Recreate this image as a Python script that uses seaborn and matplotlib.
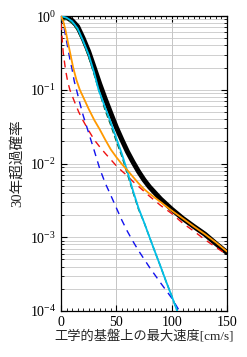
import numpy as np
import pandas as pd
import matplotlib
matplotlib.use("Agg")
import matplotlib.pyplot as plt
import seaborn as sns
from matplotlib.ticker import LogLocator, MultipleLocator, NullFormatter, FixedLocator

# ---- data ----
black_x = [0, 5, 10, 15, 20, 25, 30, 35, 40, 45, 50, 55, 60, 65, 70, 75, 80, 90, 100, 110, 120, 130, 140, 150]
black_y = [1.0, 0.96, 0.87, 0.72, 0.5, 0.33, 0.2, 0.12, 0.075, 0.048, 0.031, 0.021, 0.0145, 0.0105, 0.0078,
           0.006, 0.0048, 0.0033, 0.0024, 0.0018, 0.0014, 0.0011, 0.00082, 0.00062]

orange_x = [0, 2, 4, 6, 8, 11, 14, 17, 20, 25, 30, 35, 40, 45, 50, 55, 60, 65, 70, 75, 80, 90, 100,
            110, 120, 130, 140, 150]
orange_y = [1.0, 0.85, 0.65, 0.46, 0.33, 0.2, 0.135, 0.1, 0.08, 0.055, 0.039, 0.029, 0.021, 0.0155, 0.0122,
            0.0098, 0.0081, 0.0066, 0.0054, 0.0045, 0.0039, 0.003, 0.0023, 0.0018, 0.0014, 0.0011, 0.00085,
            0.00064]

red_x = [0, 1, 2, 4, 6, 8, 12, 16, 20, 25, 30, 35, 40, 45, 50, 55, 60, 65, 70, 80, 90, 100, 110, 120,
         130, 140, 150]
red_y = [0.8, 0.5, 0.32, 0.19, 0.13, 0.1, 0.07, 0.05, 0.038, 0.028, 0.021, 0.0168, 0.0137, 0.0113, 0.0093,
         0.0079, 0.0068, 0.0057, 0.0049, 0.0036, 0.0027, 0.0021, 0.00155, 0.00121, 0.00093, 0.00073, 0.00058]

blue_x = [0, 2, 4, 6, 8, 10, 12, 14, 17, 20, 25, 30, 35, 40, 45, 50, 55, 60, 65, 70, 80, 90, 100, 107]
blue_y = [1.0, 0.8, 0.55, 0.38, 0.26, 0.19, 0.13, 0.1, 0.066, 0.045, 0.026, 0.015, 0.0085, 0.0054, 0.0037,
          0.0025, 0.0017, 0.0012, 0.00088, 0.00066, 0.00039, 0.00024, 0.00015, 0.0001]

green_x = [0, 5, 10, 15, 20, 25, 30, 35, 40, 45, 50, 55, 60, 65, 70, 75, 80, 85, 90, 95, 100, 105]
green_y = [0.88, 0.9, 0.8, 0.64, 0.44, 0.28, 0.16, 0.09, 0.052, 0.033, 0.02, 0.0125, 0.0072, 0.0041, 0.0024,
           0.0016, 0.001, 0.00063, 0.0004, 0.00025, 0.00016, 0.0001]

cyan_x = [0, 5, 10, 15, 20, 25, 30, 34, 40, 45, 50, 55, 60, 65, 70, 75, 80, 85, 90, 95, 100, 105]
cyan_y = [1.0, 0.95, 0.85, 0.68, 0.46, 0.3, 0.17, 0.1, 0.057, 0.036, 0.022, 0.0135, 0.0078, 0.0043, 0.0025,
          0.0016, 0.001, 0.00063, 0.0004, 0.00025, 0.00016, 0.0001]

x_ticks = [0, 50, 100, 150]
x_label = "工学的基盤上の最大速度[cm/s]"
y_label = "30年超過確率"

# ---- style ----
sns.set_style("ticks")
plt.rcParams["font.family"] = ["Liberation Serif", "Noto Sans CJK JP"]
plt.rcParams["mathtext.fontset"] = "stix"

fig = plt.figure(figsize=(2.47, 3.57), dpi=100)
ax = fig.add_axes([0.247, 0.129, 0.672, 0.826])

def draw(xs, ys, color, lw, dashes=None, z=2):
    df = pd.DataFrame({"x": xs, "y": ys})
    sns.lineplot(data=df, x="x", y="y", ax=ax, color=color, lw=lw, zorder=z)
    line = ax.lines[-1]
    line.set_solid_joinstyle("round")
    if dashes:
        line.set_linestyle((0, dashes))

draw(black_x, black_y, "black", 3.6, z=3)
draw(red_x, red_y, "#ee1111", 1.0, dashes=(5, 4), z=4)
draw(blue_x, blue_y, "#1111ee", 1.0, dashes=(5, 4), z=4)
draw(green_x, green_y, "#1a5a2a", 1.0, dashes=(4, 2), z=4)
draw(cyan_x, cyan_y, "#00bfe8", 1.3, z=5)
draw(orange_x, orange_y, "#ff9900", 1.3, z=6)

ax.set_yscale("log")
ax.set_xlim(0, 150)
ax.set_ylim(1e-4, 1)
ax.xaxis.set_major_locator(FixedLocator(x_ticks))
ax.xaxis.set_minor_locator(MultipleLocator(5))
ax.yaxis.set_major_locator(LogLocator(base=10, numticks=10))
ax.yaxis.set_minor_locator(LogLocator(base=10, subs=np.arange(2, 10), numticks=20))
ax.yaxis.set_minor_formatter(NullFormatter())

ax.grid(True, which="major", axis="x", color="#bbbbbb", lw=0.6)
ax.grid(True, which="both", axis="y", color="#c8c8c8", lw=0.6)
ax.set_axisbelow(True)

ax.tick_params(which="both", direction="in", top=True, right=True, labelsize=10, colors="black")
ax.tick_params(which="major", length=4, width=0.8)
ax.tick_params(which="minor", length=2, width=0.6)
for s in ax.spines.values():
    s.set_linewidth(0.9)
    s.set_color("black")

ax.set_xlabel(x_label, fontsize=9.5, labelpad=1)
ax.set_ylabel(y_label, fontsize=10.5, labelpad=4)

fig.savefig("out.png", dpi=100)
